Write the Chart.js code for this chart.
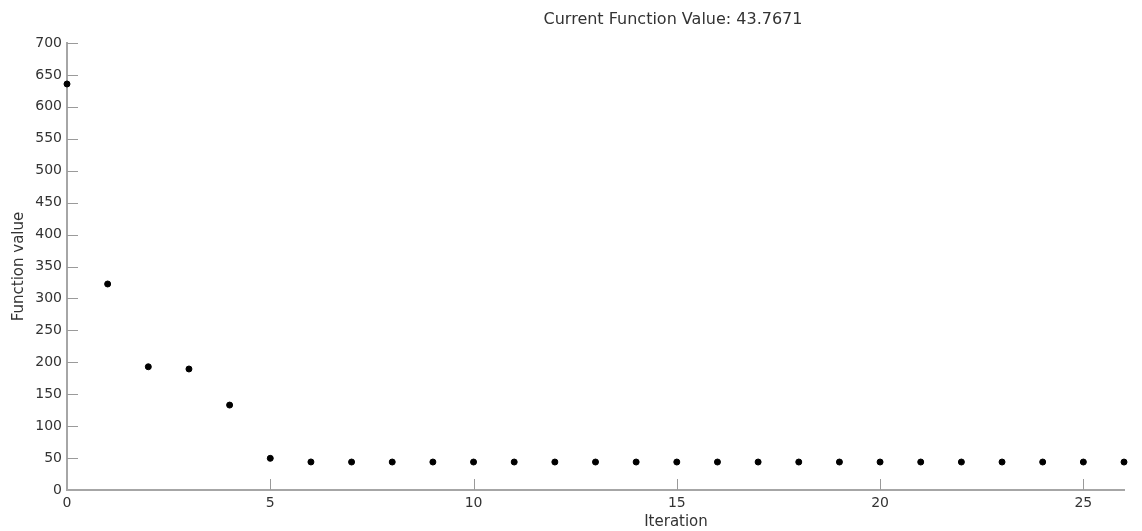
<!DOCTYPE html>
<html>
<head>
<meta charset="utf-8">
<script src="https://cdn.jsdelivr.net/npm/chart.js@4/dist/chart.umd.min.js"></script>
<style>
  html, body { margin: 0; padding: 0; background: #fff; }
  #wrap { position: relative; width: 1142px; height: 531px; }
  canvas { position: absolute; left: 0; top: 0; }
  .lbl { position: absolute; font-family: "DejaVu Sans", sans-serif; color: #333; white-space: nowrap; transform: translateX(-50%); }
</style>
</head>
<body>
<div id="wrap">
  <canvas id="c" width="1142" height="531"></canvas>
  <div class="lbl" id="title" style="left:673px; top:9px; font-size:16px;">Current Function Value: 43.7671</div>
  <div class="lbl" id="xlab" style="left:676px; top:512px; font-size:15px;">Iteration</div>
</div>
<script>
const titleText = "Current Function Value: 43.7671";
const xAxisLabel = "Iteration";
const yAxisLabel = "Function value";
const iterations = [0,1,2,3,4,5,6,7,8,9,10,11,12,13,14,15,16,17,18,19,20,21,22,23,24,25,26];
const functionValues = [635.8,322.6,193,189.5,133,49.6,43.9,43.8,43.8,43.8,43.8,43.8,43.8,43.8,43.8,43.8,43.8,43.8,43.8,43.8,43.8,43.8,43.8,43.8,43.8,43.8,43.7671];
const xTickValues = [0,5,10,15,20,25];
const yTickValues = [0,50,100,150,200,250,300,350,400,450,500,550,600,650,700];

const axisColor = '#a6a6a6';
const tickColor = '#9a9a9a';
const textColor = '#333';

const innerTicks = {
  id: 'innerTicks',
  afterDatasetsDraw(chart) {
    const ctx = chart.ctx;
    const xs = chart.scales.x, ys = chart.scales.y;
    const area = chart.chartArea;
    ctx.save();
    ctx.strokeStyle = tickColor;
    ctx.lineWidth = 1;
    ys.ticks.forEach(t => {
      if (t.value === 0) return;
      const y = Math.round(ys.getPixelForValue(t.value)) + 0.5;
      ctx.beginPath();
      ctx.moveTo(area.left, y);
      ctx.lineTo(area.left + 11, y);
      ctx.stroke();
    });
    xs.ticks.forEach(t => {
      if (t.value === 0) return;
      const x = Math.round(xs.getPixelForValue(t.value)) + 0.5;
      ctx.beginPath();
      ctx.moveTo(x, area.bottom);
      ctx.lineTo(x, area.bottom - 11);
      ctx.stroke();
    });
    ctx.restore();
  }
};

new Chart(document.getElementById('c'), {
  type: 'scatter',
  data: {
    datasets: [{
      label: yAxisLabel,
      data: iterations.map((x, i) => ({ x: x, y: functionValues[i] })),
      backgroundColor: '#000',
      borderColor: '#000',
      pointRadius: 3,
      pointHoverRadius: 3,
      showLine: false,
      clip: false
    }]
  },
  options: {
    responsive: false,
    animation: false,
    events: [],
    layout: { padding: { top: 43, right: 18, left: 0, bottom: 0 } },
    plugins: {
      legend: { display: false },
      title: { display: false },
      tooltip: { enabled: false }
    },
    scales: {
      x: {
        type: 'linear',
        min: 0,
        max: 26,
        afterBuildTicks(scale) { scale.ticks = xTickValues.map(v => ({ value: v })); },
        afterFit(scale) { scale.height = 41; },
        grid: { display: false, drawTicks: false },
        border: { display: true, color: axisColor, width: 2 },
        ticks: { color: textColor, font: { family: 'DejaVu Sans', size: 14 }, padding: 5, maxRotation: 0 },
        title: { display: false, text: xAxisLabel }
      },
      y: {
        type: 'linear',
        min: 0,
        max: 700,
        afterBuildTicks(scale) { scale.ticks = yTickValues.map(v => ({ value: v })); },
        afterFit(scale) { scale.width = 67; },
        grid: { display: false, drawTicks: false },
        border: { display: true, color: axisColor, width: 2 },
        ticks: { color: textColor, font: { family: 'DejaVu Sans', size: 14 }, padding: 5 },
        title: { display: true, text: yAxisLabel, color: textColor, font: { family: 'DejaVu Sans', size: 15 }, padding: { top: 10, bottom: 0 } }
      }
    }
  },
  plugins: [innerTicks]
});
</script>
</body>
</html>
